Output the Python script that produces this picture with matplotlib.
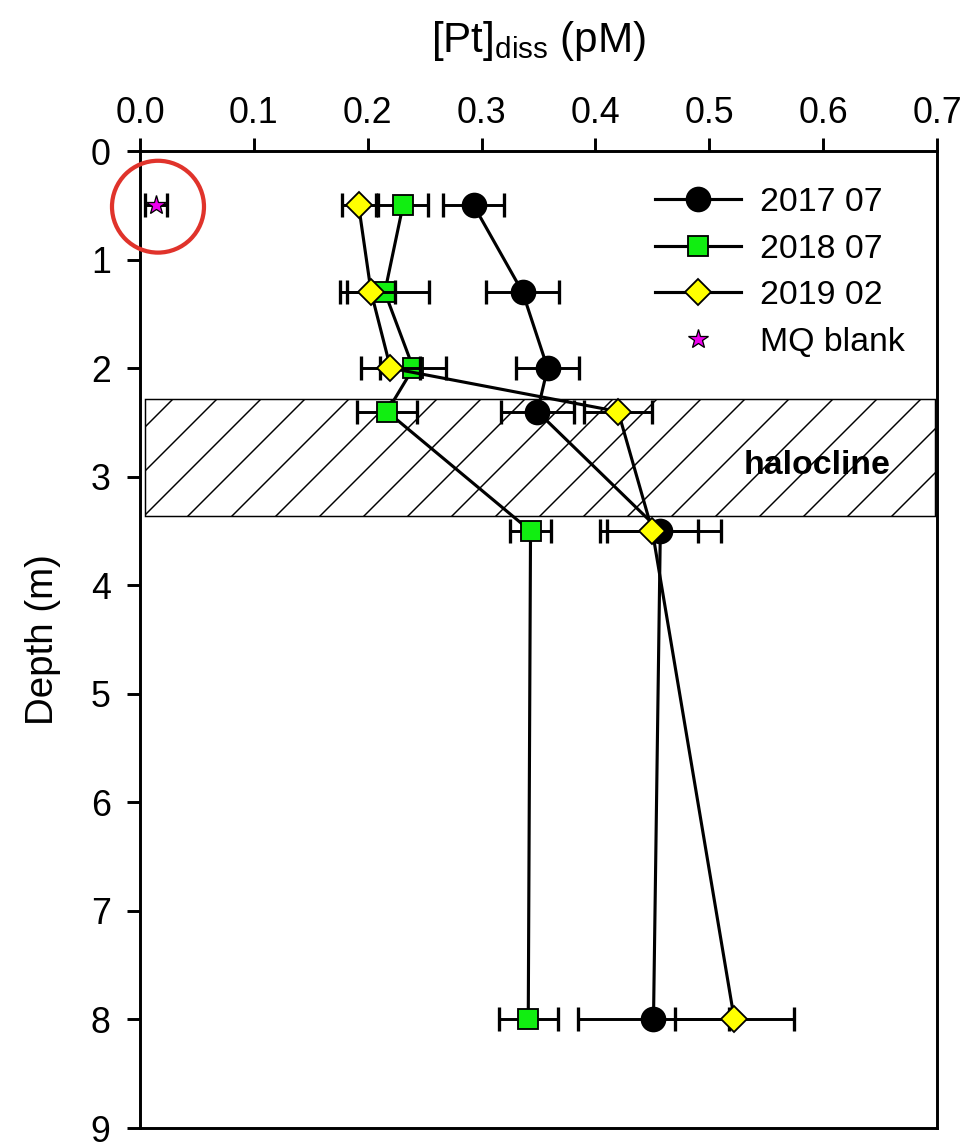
import numpy as np
import matplotlib
matplotlib.use("Agg")
from matplotlib import pyplot as plt
from matplotlib.patches import Ellipse

plt.rcParams['font.family'] = ['Liberation Sans', 'DejaVu Sans']
plt.rcParams['hatch.linewidth'] = 0.8

# data
depth = [0.5, 1.3, 2.0, 2.4, 3.5, 8.0]
pt_2017 = [0.293, 0.336, 0.358, 0.349, 0.457, 0.451]
err_2017 = [0.027, 0.032, 0.028, 0.032, 0.053, 0.066]
pt_2018 = [0.231, 0.215, 0.240, 0.217, 0.343, 0.341]
err_2018 = [0.022, 0.039, 0.029, 0.026, 0.018, 0.026]
pt_2019 = [0.192, 0.203, 0.220, 0.420, 0.450, 0.522]
err_2019 = [0.015, 0.021, 0.026, 0.030, 0.040, 0.052]
blank_x = [0.014]
blank_err = [0.010]
blank_depth = [0.5]
halocline = (2.28, 3.36)

DPI = 132
fig = plt.figure(figsize=(966 / DPI, 1146 / DPI), dpi=DPI)
ax = fig.add_axes([140 / 966, 1 - 1128 / 1146, 797 / 966, 977 / 1146])

# halocline band
ax.axhspan(halocline[0], halocline[1], xmin=0.006, xmax=0.997, facecolor='white',
           edgecolor='black', hatch='/', linewidth=0.8, zorder=1)
ax.text(0.595, 2.9, 'halocline', fontsize=18.5, fontweight='bold',
        ha='center', va='center', zorder=2)

series = [
    (pt_2017, err_2017, 'o', 'black', 13, '2017 07'),
    (pt_2018, err_2018, 's', '#11ee11', 11, '2018 07'),
    (pt_2019, err_2019, 'D', '#ffff00', 10, '2019 02'),
]
z = 3
for x, xe, m, c, ms, lab in series:
    ax.errorbar(x, depth, xerr=xe, fmt='none', ecolor='black', elinewidth=1.6,
                capsize=6.8, capthick=1.8, zorder=z)
    ax.plot(x, depth, color='black', lw=1.7, marker=m, markersize=ms,
            markerfacecolor=c, markeredgecolor='black', markeredgewidth=1.0,
            label=lab, zorder=z + 1)
    z += 2

ax.errorbar(blank_x, blank_depth, xerr=blank_err, fmt='none', ecolor='black',
            elinewidth=1.6, capsize=6.8, capthick=1.8, zorder=z)
ax.plot(blank_x, blank_depth, ls='none', marker='*', markersize=11,
        markerfacecolor='#ee00ee', markeredgecolor='black', markeredgewidth=0.7,
        label='MQ blank', zorder=z + 1)

# red circle around the blank
ax.add_patch(Ellipse((0.0158, 0.513), 0.0808, 0.846, fill=False,
                     edgecolor='#e0332b', lw=2.3, clip_on=False, zorder=20))

ax.set_xlim(0, 0.7)
ax.set_ylim(9, 0)
ax.set_xticks(np.arange(0, 0.71, 0.1))
ax.set_xticklabels(['%.1f' % v for v in np.arange(0, 0.71, 0.1)])
ax.set_yticks(range(10))
ax.xaxis.tick_top()
ax.xaxis.set_label_position('top')
ax.tick_params(direction='out', length=7, width=1.6, labelsize=19.5)
ax.tick_params(axis='x', pad=4)
ax.tick_params(axis='y', pad=9)
for s in ax.spines.values():
    s.set_linewidth(1.6)

ax.set_xlabel('[Pt]$_{\\mathregular{diss}}$ (pM)', fontsize=23, labelpad=24)
ax.set_ylabel('Depth (m)', fontsize=21, labelpad=16)

ax.legend(loc='upper left', bbox_to_anchor=((655 - 140) / 797, 1 - (187 - 151) / 977),
          frameon=False, fontsize=18.5, handlelength=2.55, handletextpad=0.55,
          labelspacing=0.46, borderpad=0, borderaxespad=0)

fig.savefig('out.png', dpi=DPI)
